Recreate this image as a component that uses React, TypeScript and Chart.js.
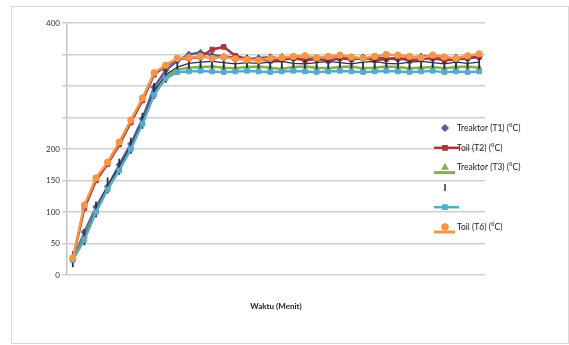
import React, { useEffect, useRef } from 'react';
import { Chart, registerables } from 'chart.js';
import { drawPoint } from 'chart.js/helpers';

Chart.register(...registerables);

const categories = ['1','2','3','4','5','6','7','8','9','10','11','12','13','14','15','16','17','18','19','20','21','22','23','24','25','26','27','28','29','30','31','32','33','34','35','36'];

const t1 = [24,68,108,140,175,208,248,298,325,340, 350,353,349,347,345,343,344,346,343,345,342,344,346,348,345,343,346,344,342,345,347,348,345,342,345,347];
const t2 = [25,106,150,176,207,242,277,318,332,343, 344,346,358,362,348,343,342,340,342,344,341,343,340,344,342,345,341,343,345,340,343,344,341,342,344,346];
const t3 = [25,62,104,138,168,203,242,288,315,326, 329,330,331,329,328,330,331,329,327,330,331,329,328,330,331,328,329,331,330,328,329,330,328,330,331,329];
const t4 = [25,60,104,142,172,205,245,292,318,330, 336,338,339,337,335,337,336,338,339,336,335,337,339,337,335,338,339,336,335,338,339,337,335,338,336,338];
const t5 = [24,56,100,136,166,200,240,286,312,322, 323,324,323,322,323,324,323,322,323,324,323,322,323,324,323,322,323,324,323,322,323,324,322,323,322,323];
const t6 = [27,111,154,179,211,246,281,321,333,344, 345,347,344,346,343,342,341,344,345,347,348,345,347,349,346,344,347,350,349,347,345,349,346,344,348,351];

const seriesNames = ['Treaktor (T1) (°C)', 'Toil (T2) (°C)', 'Treaktor (T3) (°C)', '', '', 'Toil (T6) (°C)'];
const yTickLabels = [0, 50, 100, 150, 200, 400];
const xTitle = 'Waktu (Menit)';

const colors = ['#5a5a9c', '#a8383a', '#86ad4c', '#2a2f4a', '#55acc8', '#f79646'];
const pointStyles = ['rectRot', 'rect', 'triangle', 'line', 'rect', 'circle'];
const legendLine = [null, 0, 5, null, 0, 5];

const framePlugin = {
  id: 'frame',
  beforeDraw(chart: any) {
    const ctx = chart.ctx;
    ctx.save();
    ctx.fillStyle = '#ffffff';
    ctx.fillRect(0, 0, chart.width, chart.height);
    ctx.strokeStyle = '#d9d9d9';
    ctx.lineWidth = 1;
    ctx.strokeRect(11.5, 6.5, chart.width - 12, chart.height - 8);
    ctx.restore();
  },
};

const legendPlugin = {
  id: 'customLegend',
  afterDraw(chart: any) {
    const ctx = chart.ctx;
    ctx.save();
    const x0 = 445;
    chart.data.datasets.forEach((ds: any, i: number) => {
      const y = 128 + i * 19.8;
      const lo = legendLine[i];
      if (lo !== null) {
        ctx.strokeStyle = ds.borderColor;
        ctx.lineWidth = lo === 0 ? 2.5 : 3;
        ctx.beginPath();
        ctx.moveTo(x0 - 11, y + lo);
        ctx.lineTo(x0 + (lo === 0 ? 14 : 10), y + lo);
        ctx.stroke();
      }
      ctx.fillStyle = ds.pointBackgroundColor;
      ctx.strokeStyle = ds.pointBorderColor;
      ctx.lineWidth = 1.5;
      drawPoint(ctx, { pointStyle: ds.pointStyle, radius: i === 3 ? 3.5 : 3, borderWidth: 1.5, rotation: ds.pointRotation || 0 }, x0, y);
      if (ds.label) {
        ctx.fillStyle = '#222222';
        ctx.font = '8.5px Lato';
        ctx.textBaseline = 'middle';
        ctx.textAlign = 'left';
        ctx.fillText(ds.label, 457, y);
      }
    });
    ctx.restore();
  },
};

export default function App() {
  const ref = useRef<HTMLCanvasElement>(null);
  useEffect(() => {
    const series = [t1, t2, t3, t4, t5, t6];
    const chart = new Chart(ref.current as HTMLCanvasElement, {
      type: 'line',
      data: {
        labels: categories,
        datasets: series.map((d, i) => ({
          label: seriesNames[i],
          data: d,
          borderColor: colors[i],
          backgroundColor: colors[i],
          pointBackgroundColor: colors[i],
          pointBorderColor: colors[i],
          borderWidth: i === 3 ? 1.2 : 2.5,
          pointStyle: pointStyles[i],
          pointRadius: i === 3 ? 8 : 3.2,
          pointRotation: i === 3 ? 90 : 0,
          pointBorderWidth: i === 3 ? 1.8 : 1,
          tension: 0,
          order: 6 - i,
        })),
      },
      options: {
        responsive: false,
        animation: false,
        layout: { padding: { top: 23, right: 84, bottom: 0, left: 0 } },
        plugins: { legend: { display: false }, tooltip: { enabled: false } },
        scales: {
          x: {
            type: 'category',
            offset: true,
            grid: { display: false },
            border: { display: false },
            ticks: { display: false },
            title: {
              display: true,
              text: xTitle,
              color: '#222222',
              font: { family: 'Lato', size: 8, weight: 'bold' },
              padding: { top: 0, bottom: 34 },
            },
            afterFit: (s: any) => { s.height = 70; },
          },
          y: {
            min: 0,
            max: 400,
            grid: { color: '#cfcfcf', lineWidth: 1.5, tickLength: 5, tickColor: '#cfcfcf' },
            border: { display: true, color: '#c4c4c4', width: 1.5 },
            ticks: {
              stepSize: 50,
              padding: 2,
              color: '#333333',
              font: { family: 'Lato', size: 8 },
              callback: (v: any) => (yTickLabels.includes(Number(v)) ? String(v) : ''),
            },
            afterFit: (s: any) => { s.width = 67; },
          },
        },
      },
      plugins: [framePlugin, legendPlugin],
    });
    return () => chart.destroy();
  }, []);
  return (
    <div style={{ position: 'fixed', left: 0, top: 0, width: 569, height: 345 }}>
      <canvas ref={ref} width={569} height={345} />
    </div>
  );
}
